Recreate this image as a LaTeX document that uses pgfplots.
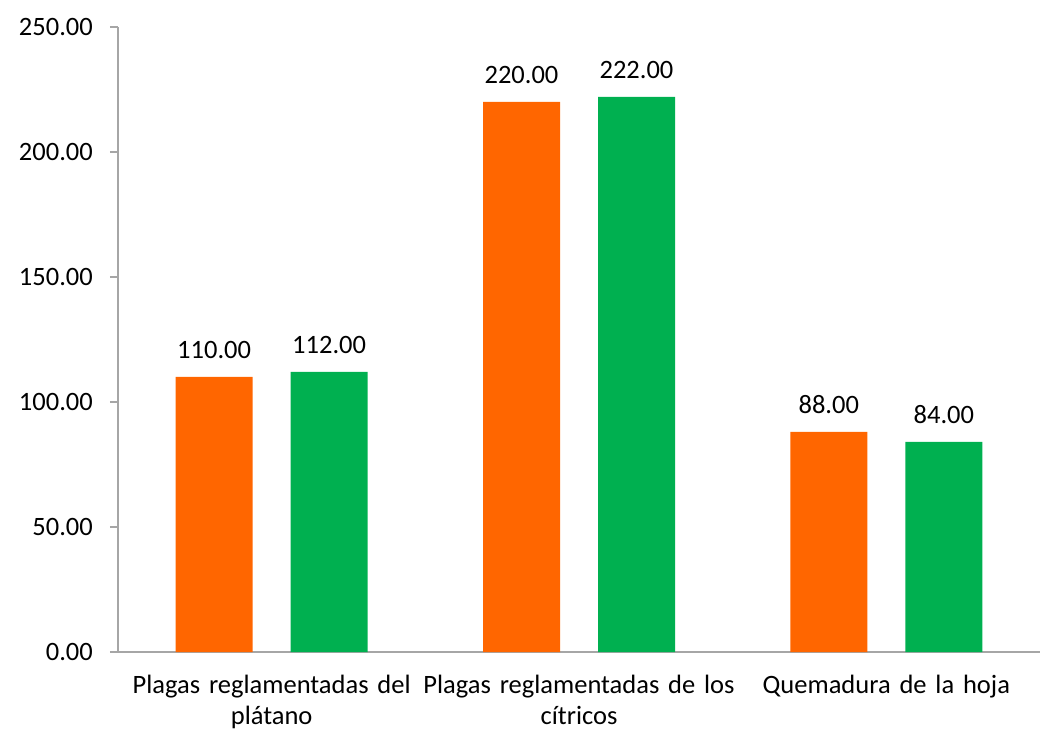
\documentclass[border=0pt]{standalone}
\usepackage{pgfplots}
\pgfplotsset{compat=1.18}
\usepackage{fontspec}
\setmainfont{Carlito}
\definecolor{barorange}{HTML}{FF6600}
\definecolor{bargreen}{HTML}{00B050}
\definecolor{axgray}{HTML}{A6A6A6}
\begin{document}
\begin{tikzpicture}[x=1pt,y=1pt]
\path (0,0) rectangle (1058,731);
\begin{axis}[
  at={(118pt,79pt)}, anchor=south west,
  scale only axis, width=922pt, height=625pt,
  xmin=-0.5, xmax=2.5, ymin=0, ymax=250,
  axis lines*=left,
  axis line style={-, axgray, line width=1.2pt},
  every tick/.style={axgray, line width=1.2pt},
  tick align=outside,
  ytick={0,50,100,150,200,250},
  major tick length=8pt,
  xtick={0,1,2},
  x tick style={draw=none},
  minor xtick={-0.5,0.5,1.5,2.5},
  minor tick length=8pt,
  xticklabels={{Plagas reglamentadas del\\plátano},{Plagas reglamentadas de los\\cítricos},{Quemadura de la hoja}},
  font=\fontsize{26.5}{31}\selectfont,
  /pgf/number format/assume math mode=true,
  yticklabel={\pgfmathprintnumber[fixed,fixed zerofill,precision=2]{\tick}},
  yticklabel style={anchor=east, inner sep=0pt, xshift=-17pt},
  xticklabel style={anchor=north, align=center, text width=320pt, inner sep=0pt, yshift=-15pt, font=\fontsize{26.5}{31}\selectfont},
  ybar, bar width=77pt,
  nodes near coords={\pgfmathprintnumber[fixed,fixed zerofill,precision=2]{\pgfplotspointmeta}},
  every node near coord/.append style={font=\fontsize{26.5}{31}\selectfont, text=black, anchor=south, inner sep=0pt, yshift=18pt},
  clip=false,
]
\addplot[fill=barorange, draw=none, bar shift=-57.5pt] coordinates {(0,110) (1,220) (2,88)};
\addplot[fill=bargreen, draw=none, bar shift=57.5pt] coordinates {(0,112) (1,222) (2,84)};
\end{axis}
\end{tikzpicture}
\end{document}
